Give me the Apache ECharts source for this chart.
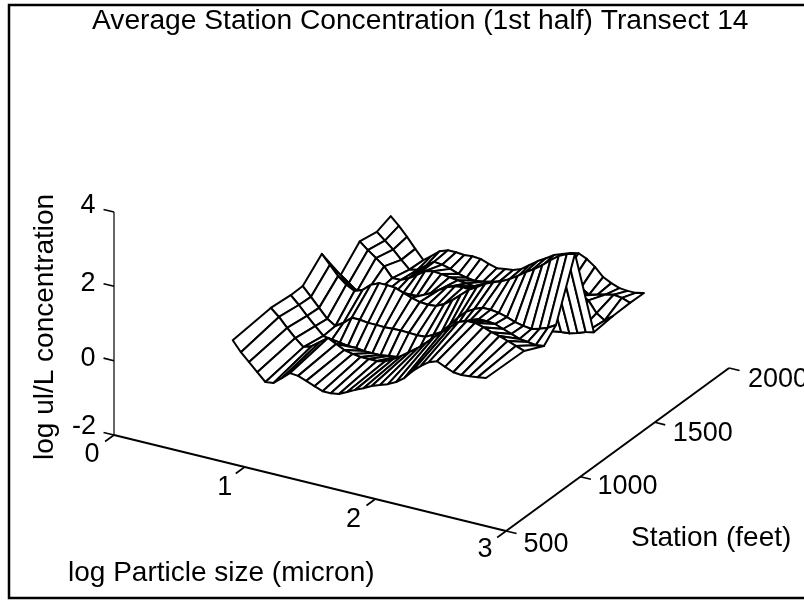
<!DOCTYPE html>
<html>
<head>
<meta charset="utf-8">
<style>html,body{margin:0;padding:0;background:#fff}#c{width:804px;height:600px}</style>
<script src="https://cdn.jsdelivr.net/npm/echarts@6/dist/echarts.min.js"></script>
</head>
<body>
<div id="c"></div>
<script>
const titleText = 'Average Station Concentration (1st half) Transect 14';
const xName = 'log Particle size (micron)';
const yName = 'Station (feet)';
const zName = 'log ul/L concentration';
const sizeTicks = [0, 1, 2, 3];
const stationTicks = [500, 1000, 1500, 2000];
const concTicks = [-2, 0, 2, 4];
const logSizes = [0.45,0.5125,0.575,0.6375,0.7,0.7625,0.825,0.8875,0.95,1.0125,1.075,1.1375,1.2,1.2625,1.325,1.3875,1.45,1.5125,1.575,1.6375,1.7,1.7625,1.825,1.8875,1.95,2.0125,2.075,2.1375,2.2,2.2625,2.325,2.3875];
const stations = [903,1159,1293,1374,1502,1629,1757,1872,1966];
const st903 = [-0.24,-0.51,-0.72,-0.94,-1.15,-1.12,-0.94,-0.75,-0.77,-0.85,-0.94,-1.02,-1.02,-0.99,-0.88,-0.77,-0.67,-0.56,-0.48,-0.40,-0.29,-0.13,0.11,0.30,0.46,0.54,0.44,0.35,0.33,0.35,0.38,0.41];
const st1159 = [-0.12,-0.31,-0.55,-0.77,-0.96,-0.88,-0.72,-0.55,-0.66,-0.77,-0.82,-0.85,-0.85,-0.85,-0.80,-0.69,-0.55,-0.39,-0.23,-0.04,0.17,0.36,0.55,0.74,0.82,0.82,0.76,0.68,0.63,0.55,0.47,0.39];
const st1293 = [-0.17,-0.38,-0.62,-0.84,-1.05,-1.11,-1.13,-1.16,-1.16,-1.19,-1.19,-1.19,-1.16,-1.13,-1.13,-1.13,-1.00,-0.73,-0.54,-0.30,-0.03,0.18,0.34,0.42,0.42,0.40,0.32,0.24,0.16,0.13,0.10,0.13];
const st1374 = [-0.16,-0.40,-0.64,-0.88,-1.02,-0.88,-0.69,-0.69,-0.72,-0.72,-0.73,-0.72,-0.71,-0.72,-0.73,-0.72,-0.61,-0.48,-0.24,0.01,0.22,0.35,0.44,0.44,0.41,0.35,0.27,0.22,0.19,0.25,0.33,0.46];
const st1502 = [0.33,0.09,-0.16,-0.34,-0.45,-0.37,-0.18,-0.08,-0.08,-0.10,-0.18,-0.26,-0.32,-0.34,-0.32,-0.21,-0.05,0.14,0.33,0.46,0.60,0.70,0.78,0.89,1.03,1.19,1.32,1.48,1.67,1.83,1.94,2.00];
const st1629 = [-0.61,-0.77,-0.94,-0.96,-0.94,-0.88,-0.91,-0.91,-0.91,-0.80,-0.67,-0.51,-0.37,-0.24,-0.16,-0.13,-0.16,-0.24,-0.32,-0.40,-0.53,-0.64,-0.69,-0.75,-0.75,-0.75,-0.72,-0.69,-0.67,-0.61,-0.53,-0.48];
const st1757 = [-0.08,-0.26,-0.42,-0.59,-0.85,-0.85,-0.75,-0.61,-0.45,-0.40,-0.42,-0.45,-0.48,-0.51,-0.53,-0.53,-0.51,-0.42,-0.32,-0.24,-0.21,-0.26,-0.29,-0.34,-0.42,-0.05,-0.05,-0.08,-0.16,-0.45,-0.59,-0.42];
const st1872 = [-0.16,-0.34,-0.53,-0.75,-0.96,-0.91,-0.75,-0.59,-0.61,-0.67,-0.75,-0.80,-0.83,-0.80,-0.75,-0.69,-0.61,-0.51,-0.32,-0.16,-0.05,0.01,0.01,-0.05,-0.16,-0.32,-0.45,-0.40,-0.34,-0.29,-0.32,-0.40];
const st1966 = [-0.01,-0.22,-0.46,-0.73,-0.98,-0.81,-0.63,-0.55,-0.55,-0.57,-0.55,-0.57,-0.65,-0.71,-0.68,-0.65,-0.57,-0.41,-0.25,-0.12,0.02,0.10,0.18,0.23,0.13,-0.03,-0.25,-0.36,-0.44,-0.46,-0.46,-0.41];
const concentration = [st903, st1159, st1293, st1374, st1502, st1629, st1757, st1872, st1966];

// 3-D view -> plane of the hidden 2-D axes
function project(size, station, conc) {
  const v = (station - 500) / 1500;
  return [114 + size * 130.7 + v * 223, 435 + size * 32 - v * 163 - (conc + 2) * 37.17];
}

// mesh cells, painted far to near
const cells = [];
for (let j = stations.length - 2; j >= 0; j--) {
  for (let i = 0; i < logSizes.length - 1; i++) cells.push([i, j]);
}

function renderCell(params, api) {
  const i = api.value(0), j = api.value(1);
  const corners = [[i, j], [i + 1, j], [i + 1, j + 1], [i, j + 1]].map(function (c) {
    return api.coord(project(logSizes[c[0]], stations[c[1]], concentration[c[1]][c[0]]));
  });
  return { type: 'polygon', shape: { points: corners }, style: { fill: '#fff', stroke: '#000', lineWidth: 2, lineJoin: 'round' } };
}

// axes as line segments in 3-D
const segments = [];
function seg(a, b, w) { segments.push({ value: [0, 0], a: a, b: b, w: w }); }
seg([0, 500, -2], [3, 500, -2], 2);
seg([3, 500, -2], [3, 2000, -2], 2);
seg([0, 500, -2], [0, 500, 4], 1.2);
sizeTicks.forEach(function (t) { seg([t, 500, -2], [t, 440, -2], 1.6); });
stationTicks.forEach(function (t) { seg([3, t, -2], [3.08, t, -2], 1.6); });
concTicks.forEach(function (t) { seg([0, 500, t], [-0.08, 500, t], 1.6); });

function renderSegment(params, api) {
  const s = segments[params.dataIndex];
  const p = api.coord(project(s.a[0], s.a[1], s.a[2]));
  const q = api.coord(project(s.b[0], s.b[1], s.b[2]));
  return { type: 'line', shape: { x1: p[0], y1: p[1], x2: q[0], y2: q[1] }, style: { stroke: '#000', lineWidth: s.w } };
}

// tick labels anchored at their ticks
function labelData(ticks, toPoint, dx, dy) {
  return ticks.map(function (t, k) {
    const p = toPoint(t);
    return { value: p, name: String(t), label: { offset: [dx[k], dy[k]], color: '#000' } };
  });
}
const tickLabels = [].concat(
  labelData(sizeTicks, function (t) { return project(t, 500, -2); }, [-22, -20, -22, -21], [20, 21, 21, 19]),
  labelData(stationTicks, function (t) { return project(3, t, -2); }, [40, 47, 48, 49], [14, 10, 11, 12]),
  labelData(concTicks, function (t) { return project(0, 500, t); }, [-30, -26, -26, -26], [-8, -2, -3, -6])
);

const chart = echarts.init(document.getElementById('c'), null, { renderer: 'canvas' });
const FONT = '"Liberation Sans", Arial, sans-serif';
chart.setOption({
  animation: false,
  backgroundColor: '#fff',
  grid: { left: 0, right: 0, top: 0, bottom: 0 },
  xAxis: { type: 'value', min: 0, max: 804, show: false },
  yAxis: { type: 'value', min: 0, max: 600, inverse: true, show: false },
  title: {
    text: titleText, left: 92, top: 7, padding: 0,
    textStyle: { fontFamily: FONT, fontWeight: 'normal', fontSize: 28.2, color: '#000' }
  },
  series: [
    { type: 'custom', coordinateSystem: 'cartesian2d', data: cells, renderItem: renderCell, silent: true, clip: false, z: 3 },
    { type: 'custom', coordinateSystem: 'cartesian2d', data: segments, renderItem: renderSegment, silent: true, clip: false, z: 2 },
    {
      type: 'scatter', data: tickLabels, symbolSize: 0, silent: true, z: 4, itemStyle: { opacity: 1 },
      label: { show: true, position: 'inside', formatter: '{b}', fontFamily: FONT, fontSize: 27, color: '#000' }
    }
  ],
  graphic: [
    { type: 'rect', z: 10, shape: { x: 9, y: 5, width: 800, height: 593 }, style: { fill: 'none', stroke: '#000', lineWidth: 2.5 } },
    { type: 'text', z: 10, x: 68, y: 559, style: { text: xName, font: '28px ' + FONT, fill: '#000' } },
    { type: 'text', z: 10, x: 631, y: 524, style: { text: yName, font: '28px ' + FONT, fill: '#000' } },
    { type: 'text', z: 10, x: 31, y: 460, rotation: Math.PI / 2, style: { text: zName, font: '28px ' + FONT, fill: '#000' } }
  ]
});
</script>
</body>
</html>
